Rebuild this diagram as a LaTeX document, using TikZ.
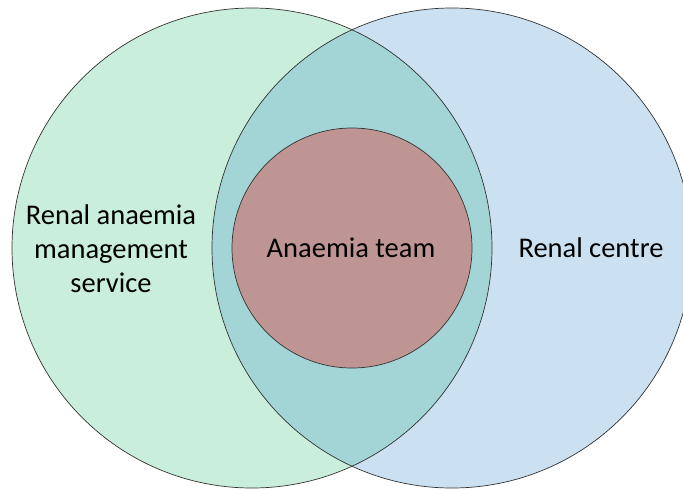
\documentclass[tikz,border=0pt]{standalone}
\usepackage{fontspec}
\setmainfont{Carlito}
\begin{document}
\begin{tikzpicture}[x=1pt,y=-1pt,
  venn/.style={draw=black!80, line width=0.7pt},
  lbl/.style={font=\fontsize{28.5}{34}\selectfont, align=center, text=black}]
\definecolor{leftfill}{HTML}{C9EEDB}
\definecolor{rightfill}{HTML}{CBE0F1}
\definecolor{bothfill}{HTML}{A3D5D6}
\definecolor{teamfill}{HTML}{BF9594}
\useasboundingbox (0,0) rectangle (683,488);
\clip (0,0) rectangle (683,488);
% the two services
\fill[leftfill] (252,248) circle (240);
\fill[rightfill] (452,248) circle (240);
\begin{scope}
  \clip (252,248) circle (240);
  \fill[bothfill] (452,248) circle (240);
\end{scope}
\draw[venn] (252,248) circle (240);
\draw[venn] (452,248) circle (240);
% the team in the middle
\node[venn, circle, fill=teamfill, minimum size=240pt, inner sep=0pt] (team) at (352,248) {};
\node[lbl] (teamtxt) at (351,248) {Anaemia team};
\node[lbl] (rams) at (111,249) {Renal anaemia\\management\\service};
\node[lbl] (centre) at (591,248) {Renal centre};
\end{tikzpicture}
\end{document}
